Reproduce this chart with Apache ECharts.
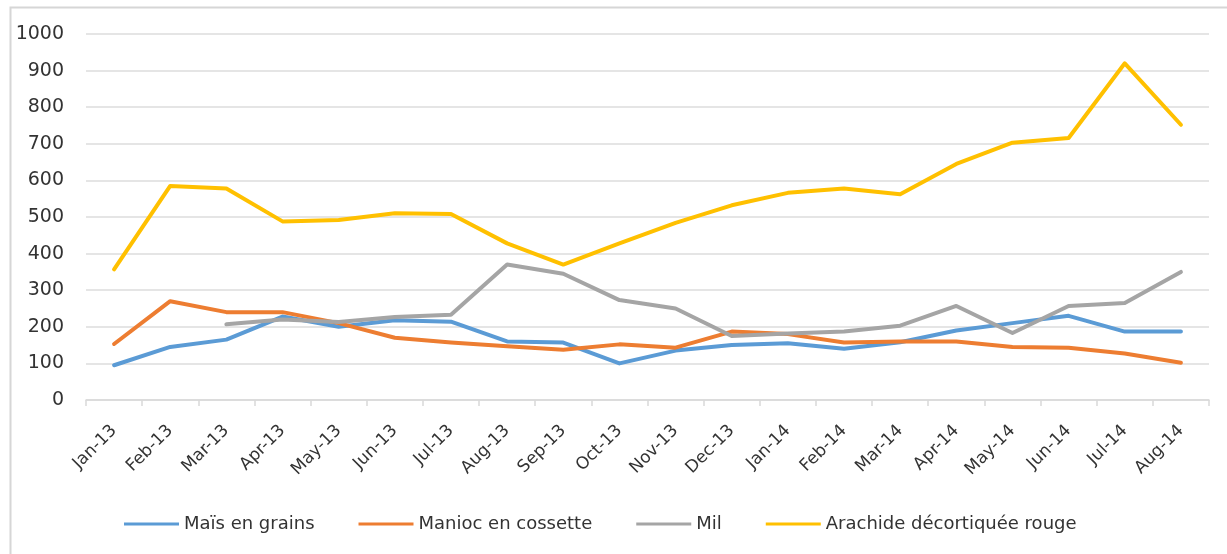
<!DOCTYPE html>
<html>
<head>
<meta charset="utf-8">
<script src="https://cdn.jsdelivr.net/npm/echarts@6/dist/echarts.min.js"></script>
<style>html,body{margin:0;padding:0;background:#fff;}#c{width:1227px;height:554px;}</style>
</head>
<body>
<div id="c"></div>
<script>
const categories = ['Jan-13','Feb-13','Mar-13','Apr-13','May-13','Jun-13','Jul-13','Aug-13','Sep-13','Oct-13','Nov-13','Dec-13','Jan-14','Feb-14','Mar-14','Apr-14','May-14','Jun-14','Jul-14','Aug-14'];
const mais = [95,145,165,228,200,218,214,160,157,100,135,150,155,140,158,190,210,230,187,187];
const manioc = [153,270,240,240,210,170,157,147,137,152,143,187,180,157,160,160,145,143,127,102];
const mil = [null,null,207,220,213,227,233,370,345,273,250,175,182,187,203,257,183,257,265,350];
const arachide = [357,585,578,488,492,510,508,428,370,428,484,532,566,578,562,645,703,716,920,752];
const seriesNames = ['Maïs en grains','Manioc en cossette','Mil','Arachide décortiquée rouge'];
const colors = ['#5B9BD5','#ED7D31','#A5A5A5','#FFC000'];
const yTicks = {min:0, max:1000, interval:100};

const chart = echarts.init(document.getElementById('c'));
const font = 'DejaVu Sans';
function mk(name, data, color){
  return {name, type:'line', data, symbol:'none', connectNulls:false,
    lineStyle:{color, width:4, cap:'round', join:'round'}, itemStyle:{color}};
}
chart.setOption({
  animation:false,
  color:colors,
  graphic:[{type:'rect', shape:{x:10.5,y:7.5,width:1300,height:700}, style:{fill:'none', stroke:'#d6d6d6', lineWidth:2}, silent:true, z:-1}],
  grid:{left:86, right:18, top:34, bottom:154, containLabel:false},
  legend:{left:119, top:510, icon:'rect', itemWidth:55, itemHeight:3, itemGap:44,
    textStyle:{fontFamily:font, fontSize:18, color:'#333'}, data:seriesNames},
  xAxis:{type:'category', data:categories, boundaryGap:true,
    axisLine:{lineStyle:{color:'#d9d9d9', width:1.5}},
    axisTick:{show:true, alignWithLabel:false, length:6, lineStyle:{color:'#d9d9d9', width:1.5}},
    axisLabel:{rotate:45, margin:28, interval:0, fontFamily:font, fontSize:17, color:'#333'}},
  yAxis:{type:'value', min:yTicks.min, max:yTicks.max, interval:yTicks.interval,
    axisLine:{show:false}, axisTick:{show:false},
    axisLabel:{margin:22, fontFamily:font, fontSize:19, color:'#333', formatter:function(v){return String(v);}},
    splitLine:{lineStyle:{color:'#dcdcdc', width:1.5}}},
  series:[mk(seriesNames[0],mais,colors[0]), mk(seriesNames[1],manioc,colors[1]), mk(seriesNames[2],mil,colors[2]), mk(seriesNames[3],arachide,colors[3])]
});
</script>
</body>
</html>
